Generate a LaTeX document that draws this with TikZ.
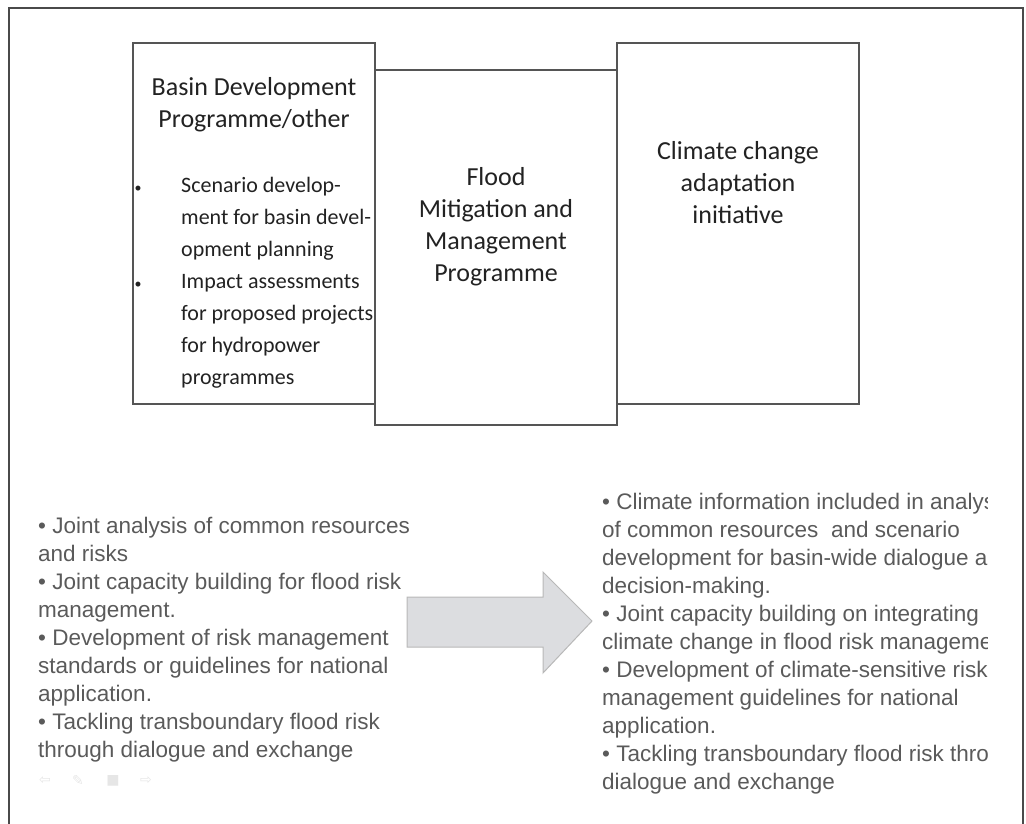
\documentclass[tikz,border=0pt]{standalone}
\usepackage{fontspec}
\setmainfont{Carlito}
\newfontfamily\arialfont{Liberation Sans}
\newfontfamily\symfont{DejaVu Sans}
\definecolor{frameC}{HTML}{4A4A4A}
\definecolor{boxC}{HTML}{555555}
\definecolor{txtC}{HTML}{222222}
\definecolor{greyTxt}{HTML}{5A5A5A}
\definecolor{arrowFill}{HTML}{DCDDE0}
\definecolor{arrowLine}{HTML}{B8B8B8}
\definecolor{iconC}{HTML}{E6E6E6}
\tikzset{
  panel/.style={draw=boxC, line width=1.3pt, fill=white},
  head/.style={inner sep=0pt, anchor=base, align=center, text=txtC, font=\fontsize{26}{32}\selectfont},
  itemline/.style={inner sep=0pt, anchor=base west, text=txtC, font=\fontsize{22}{32}\selectfont},
  dot/.style={inner sep=0pt, anchor=base, text=txtC, font=\fontsize{14}{32}\selectfont},
  greyblock/.style={inner sep=0pt, anchor=base west, align=left, text=greyTxt, font=\arialfont\fontsize{22.5}{28}\selectfont},
  icon/.style={inner sep=0pt, text=iconC, font=\symfont\fontsize{14}{16}\selectfont}
}
\begin{document}
\begin{tikzpicture}[x=1pt,y=-1pt]
\useasboundingbox (0,0) rectangle (1026,823);
% outer frame (open at bottom)
\draw[frameC, line width=2pt] (9,830) -- (9,8) -- (1023,8) -- (1023,830);
% three panels
\path[panel] (133,43) rectangle (375,404);
\path[panel] (617,43) rectangle (859,404);
\path[panel] (375,70) rectangle (617,425);
% multi-line nodes: base anchor = baseline of last line
\node[head] (bdp) at (254,127) {Basin Development\\Programme/other};
\node[dot] (b1) at (138,192) {\textbullet};
\node[dot] (b2) at (138,288) {\textbullet};
\node[itemline] (l1) at (181,192) {Scenario develop-};
\node[itemline] (l2) at (181,224) {ment for basin devel-};
\node[itemline] (l3) at (181,256) {opment planning};
\node[itemline] (l4) at (181,288) {Impact assessments};
\node[itemline] (l5) at (181,320) {for proposed projects};
\node[itemline] (l6) at (181,352) {for hydropower};
\node[itemline] (l7) at (181,384) {programmes};
\node[head] (fmm) at (496,281) {Flood\\Mitigation and\\Management\\Programme};
\node[head] (cca) at (738,223) {Climate change\\adaptation\\initiative};
% big arrow
\draw[arrowLine, fill=arrowFill, line width=1pt, line join=miter]
  (407,597) -- (543,597) -- (543,572) -- (592,621) -- (543,673) -- (543,647) -- (407,647) -- cycle;
% grey text blocks
\node[greyblock] (lefttxt) at (38,757) {%
\textbullet{} Joint analysis of common resources\\
and risks\\
\textbullet{} Joint capacity building for flood risk\\
management.\\
\textbullet{} Development of risk management\\
standards or guidelines for national\\
application.\\
\textbullet{} Tackling transboundary flood risk\\
through dialogue and exchange};
\begin{scope}
\clip (590,470) rectangle (987,810);
\node[greyblock] (righttxt) at (602,789) {%
\textbullet{} Climate information included in analysis\\
of common resources \ and scenario\\
development for basin-wide dialogue and\\
decision-making.\\
\textbullet{} Joint capacity building on integrating\\
climate change in flood risk management\\
\textbullet{} Development of climate-sensitive risk\\
management guidelines for national\\
application.\\
\textbullet{} Tackling transboundary flood risk through\\
dialogue and exchange};
\end{scope}
% faint icons
\node[icon] (ic1) at (45,781) {⇦};
\node[icon] (ic2) at (78,781) {✎};
\node[icon] (ic3) at (113,781) {■};
\node[icon] (ic4) at (146,781) {⇨};
\end{tikzpicture}
\end{document}
